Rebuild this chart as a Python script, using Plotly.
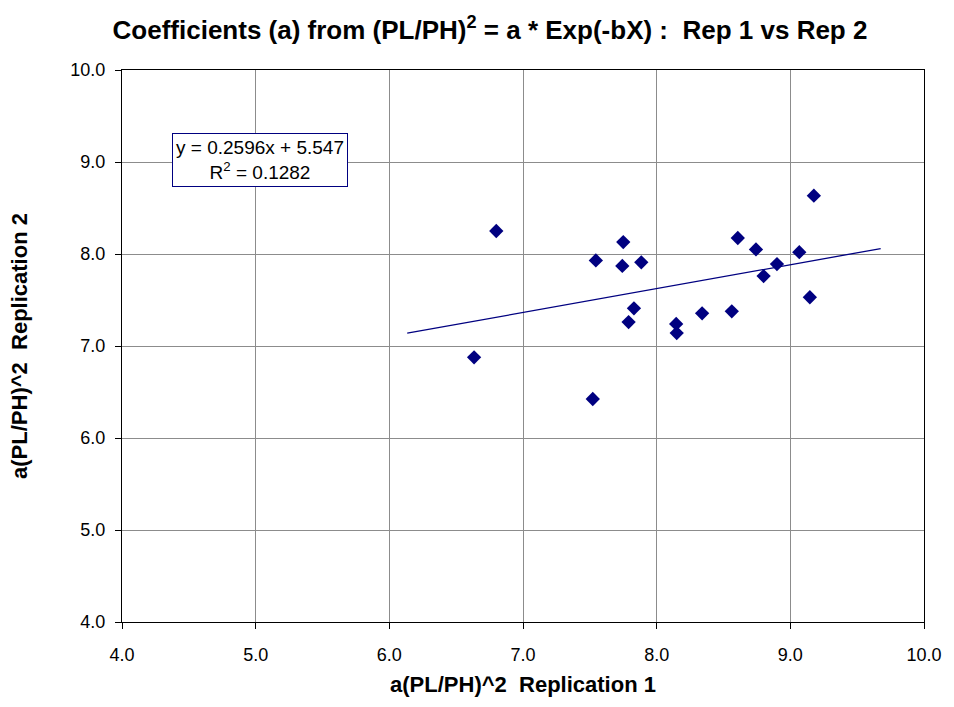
import numpy as np
import plotly.graph_objects as go

rep1 = [6.80, 7.75, 7.545, 7.743, 7.885, 7.83, 7.79, 8.146, 8.15, 6.634, 7.522,
        9.176, 8.607, 8.743, 9.067, 8.90, 8.80, 9.146, 8.34, 8.562]
rep2 = [8.25, 8.13, 7.93, 7.87, 7.91, 7.41, 7.26, 7.24, 7.14, 6.877, 6.424,
        8.634, 8.174, 8.05, 8.02, 7.89, 7.76, 7.53, 7.355, 7.377]
slope, intercept = 0.2596, 5.547
r2 = 0.1282
forecast = 0.5
tick_vals = [4, 5, 6, 7, 8, 9, 10]
tick_text = ["4.0", "5.0", "6.0", "7.0", "8.0", "9.0", "10.0"]

FONT = "Liberation Sans, Arial, sans-serif"
NAVY = "#000080"

tx = np.array([min(rep1) - forecast, max(rep1) + forecast])
ty = slope * tx + intercept

fig = go.Figure()
fig.add_trace(go.Scatter(x=tx, y=ty, mode="lines",
                         line=dict(color=NAVY, width=1.3), hoverinfo="skip"))
fig.add_trace(go.Scatter(x=rep1, y=rep2, mode="markers",
                         marker=dict(symbol="diamond", size=11, color=NAVY,
                                     line=dict(width=0))))

axis_common = dict(
    tickvals=tick_vals, ticktext=tick_text, range=[4, 10],
    showgrid=True, gridcolor="#8c8c8c", gridwidth=1,
    showline=True, linecolor="black", linewidth=1.2, mirror=True,
    ticks="outside", ticklen=6, tickcolor="black",
    zeroline=False, tickfont=dict(family=FONT, size=18, color="black"),
)
fig.update_xaxes(**axis_common, ticklabelstandoff=10,
                 title=dict(text="<b>a(PL/PH)^2\u00a0\u00a0Replication 1</b>",
                            font=dict(family=FONT, size=22, color="black"),
                            standoff=12))
fig.update_yaxes(**axis_common, ticklabelstandoff=6,
                 title=dict(text="<b>a(PL/PH)^2\u00a0\u00a0Replication 2</b>",
                            font=dict(family=FONT, size=22, color="black"),
                            standoff=36))

fig.update_layout(
    width=954, height=707,
    margin=dict(l=122, r=25, t=70, b=85),
    paper_bgcolor="white", plot_bgcolor="white",
    showlegend=False,
    font=dict(family=FONT, color="black"),
    title=dict(text="<b>Coefficients (a) from (PL/PH)<sup>2</sup> = a * Exp(-bX) :\u00a0\u00a0Rep 1 vs Rep 2</b>",
               x=490 / 954, xanchor="center", y=1 - 30 / 707, yanchor="middle",
               font=dict(family=FONT, size=26, color="black")),
    annotations=[dict(
        text=f"y = {slope}x + {intercept}<br>R<sup>2</sup> = {r2}",
        xref="paper", yref="paper",
        x=(261 - 122) / 807, y=1 - (160 - 70) / 552,
        xanchor="center", yanchor="middle", showarrow=False,
        font=dict(family=FONT, size=19, color="black"),
        bordercolor=NAVY, borderwidth=1, borderpad=3, bgcolor="white",
        align="center")],
)

fig.write_html("out.html")
